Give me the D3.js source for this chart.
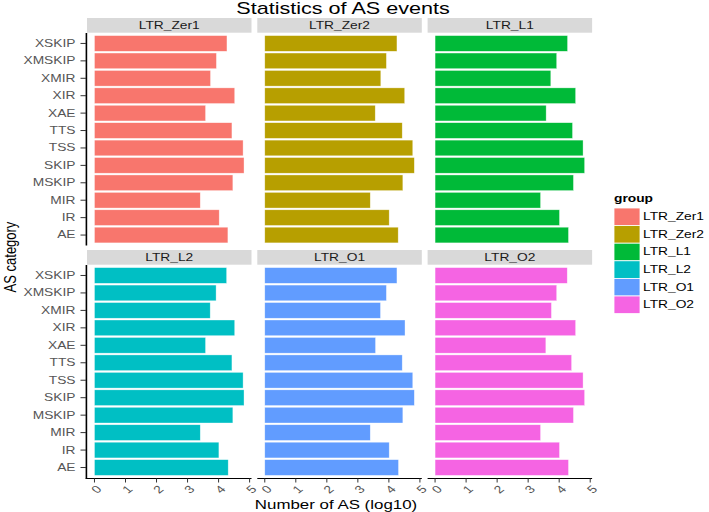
<!DOCTYPE html>
<html>
<head>
<meta charset="utf-8">
<script src="https://cdn.jsdelivr.net/npm/d3@7"></script>
<style>
  html, body { margin: 0; padding: 0; background: #fff; }
  svg { display: block; }
  text { font-family: "Liberation Sans", Arial, sans-serif; }
</style>
</head>
<body>
<svg id="chart" width="709" height="512"></svg>
<script>
// ---- data ----
const categories = ["AE","IR","MIR","MSKIP","SKIP","TSS","TTS","XAE","XIR","XMIR","XMSKIP","XSKIP"];
const groups = ["LTR_Zer1","LTR_Zer2","LTR_L1","LTR_L2","LTR_O1","LTR_O2"];
const colors = ["#F8766D","#B79F00","#00BA38","#00BFC4","#619CFF","#F564E3"];
const valsZer1 = [4.30,4.02,3.41,4.46,4.82,4.79,4.43,3.58,4.52,3.74,3.93,4.27];
const valsZer2 = [4.30,4.01,3.40,4.45,4.82,4.77,4.43,3.56,4.51,3.74,3.92,4.26];
const valsL1   = [4.30,4.01,3.40,4.46,4.82,4.77,4.43,3.58,4.53,3.73,3.92,4.27];
const valsL2   = [4.31,4.01,3.41,4.46,4.82,4.79,4.43,3.58,4.52,3.73,3.92,4.26];
const valsO1   = [4.31,4.01,3.40,4.45,4.82,4.77,4.43,3.57,4.52,3.73,3.92,4.26];
const valsO2   = [4.30,4.01,3.40,4.46,4.82,4.77,4.40,3.57,4.53,3.75,3.92,4.26];
const seriesValues = [valsZer1, valsZer2, valsL1, valsL2, valsO1, valsO2];
const xTicks = [0,1,2,3,4,5];
const titleText = "Statistics of AS events";
const xTitle = "Number of AS (log10)";
const yTitle = "AS category";
const legendTitle = "group";

// ---- layout ----
const SX = 1.3; // horizontal stretch of the text
const svg = d3.select("#chart");
svg.append("rect").attr("width",709).attr("height",512).attr("fill","#fff");

const panelW = 164.5, panelGap = 5.8, left0 = 87;
const rows = [{top:33, bottom:245.5, strip:18}, {top:265, bottom:478, strip:250}];
const FONT_SMALL = 10.6;

function txt(parent, x, y, s, o) {
  o = o || {};
  const t = parent.append("text")
    .attr("transform", `translate(${x},${y}) scale(${SX},1) rotate(${o.rot||0})`)
    .attr("font-size", o.size || FONT_SMALL)
    .attr("fill", o.fill || "#555555")
    .attr("text-anchor", o.anchor || "start")
    .text(s);
  if (o.weight) t.attr("font-weight", o.weight);
  if (o.baseline) t.attr("dominant-baseline", o.baseline);
  return t;
}

const maxV = d3.max(seriesValues.flat());
const xDomain = [-0.05*maxV, maxV*1.05];

groups.forEach((g, i) => {
  const r = Math.floor(i/3), c = i % 3;
  const row = rows[r];
  const x0 = left0 + c*(panelW + panelGap);
  const x = d3.scaleLinear().domain(xDomain).range([x0, x0 + panelW]);
  const y = d3.scaleBand().domain(categories).range([row.bottom, row.top])
              .paddingInner(0.1).paddingOuter(0.15);
  const gp = svg.append("g");

  // strip
  gp.append("rect").attr("x", x0).attr("y", row.strip)
    .attr("width", panelW).attr("height", row.top - row.strip - 0.3)
    .attr("fill", "#d9d9d9");
  txt(gp, x0 + panelW/2, (row.strip + row.top)/2, g,
      {anchor:"middle", baseline:"central", fill:"#1a1a1a"});

  // bars
  gp.selectAll("rect.bar").data(categories).enter().append("rect")
    .attr("class","bar")
    .attr("x", x(0))
    .attr("y", d => y(d))
    .attr("width", (d, k) => x(seriesValues[i][k]) - x(0))
    .attr("height", y.bandwidth())
    .attr("fill", colors[i])
    .attr("stroke", "#ffffff").attr("stroke-opacity", 0.6).attr("stroke-width", 0.6);

  // left axis (first column)
  if (c === 0) {
    gp.append("line").attr("x1", x0 - 0.6).attr("x2", x0 - 0.6)
      .attr("y1", row.top).attr("y2", row.bottom + (r === 1 ? 0.6 : 0))
      .attr("stroke", "#000").attr("stroke-width", 1.6);
    categories.forEach(cat => {
      const cy = y(cat) + y.bandwidth()/2;
      gp.append("line").attr("x1", x0 - 6.5).attr("x2", x0 - 1)
        .attr("y1", cy).attr("y2", cy).attr("stroke", "#333").attr("stroke-width", 1);
      txt(gp, x0 - 11.5, cy, cat, {anchor:"end", baseline:"central"});
    });
  }

  // bottom axis (second row)
  if (r === 1) {
    const ay = row.bottom + 0.5;
    gp.append("line").attr("x1", x0 - (c === 0 ? 1.4 : 0)).attr("x2", x0 + panelW)
      .attr("y1", ay).attr("y2", ay).attr("stroke", "#000").attr("stroke-width", 1.1);
    xTicks.forEach(t => {
      gp.append("line").attr("x1", x(t)).attr("x2", x(t))
        .attr("y1", ay).attr("y2", ay + 4).attr("stroke", "#333").attr("stroke-width", 1);
      txt(gp, x(t) + 2, ay + 11, String(t),
          {anchor:"middle", baseline:"central", rot:-45});
    });
  }
});

// titles
txt(svg, 343, 14, titleText, {anchor:"middle", size:16.6, fill:"#000"});
txt(svg, 336, 509, xTitle, {anchor:"middle", size:13, fill:"#000"});
txt(svg, 15.5, 257, yTitle, {anchor:"middle", size:13, fill:"#000", rot:-90});

// legend
const legX = 614, legY0 = 208, keyH = 17.6, keyW = 26;
txt(svg, legX, 202, legendTitle, {size:10.6, fill:"#000", weight:"bold"});
groups.forEach((g, i) => {
  const ky = legY0 + i*keyH;
  svg.append("rect").attr("x", legX).attr("y", ky)
    .attr("width", keyW).attr("height", keyH)
    .attr("fill", colors[i]).attr("stroke", "#fff").attr("stroke-width", 0.8);
  txt(svg, legX + keyW + 3, ky + keyH/2, g, {baseline:"central", fill:"#000"});
});
</script>
</body>
</html>
